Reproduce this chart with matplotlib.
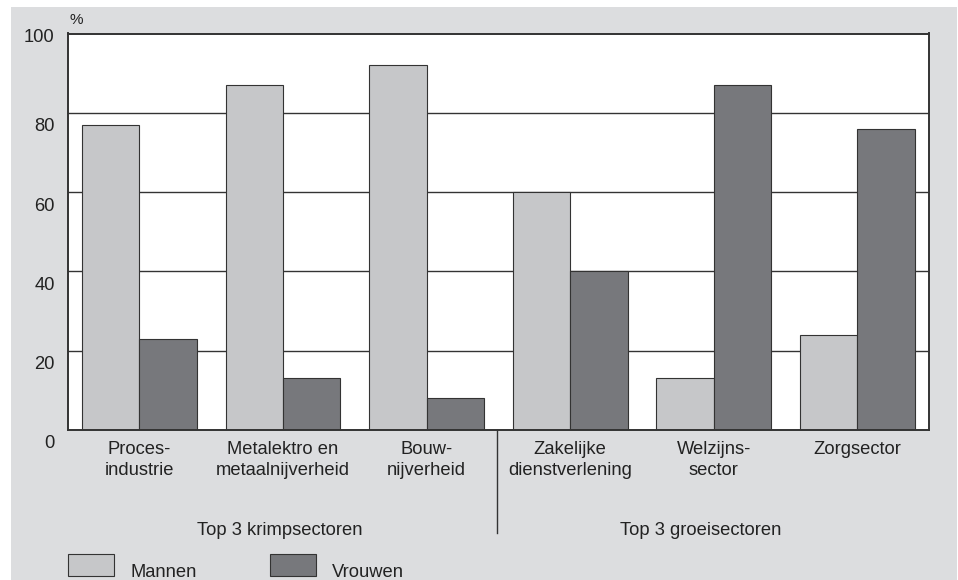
import numpy as np
import matplotlib
matplotlib.use("Agg")
import matplotlib.pyplot as plt
from matplotlib.patches import Rectangle
from matplotlib.transforms import ScaledTranslation

plt.rcParams['font.family'] = ['Liberation Sans', 'DejaVu Sans']

sectoren = ["Proces-\nindustrie", "Metalektro en\nmetaalnijverheid", "Bouw-\nnijverheid",
            "Zakelijke\ndienstverlening", "Welzijns-\nsector", "Zorgsector"]
mannen = [77, 87, 92, 60, 13, 24]
vrouwen = [23, 13, 8, 40, 87, 76]
yticks = [0, 20, 40, 60, 80, 100]
groepen = ["Top 3 krimpsectoren", "Top 3 groeisectoren"]

c_man = "#c6c7c9"
c_vrouw = "#77787c"
bg = "#dcdddf"
ink = "#222222"
fs = 13.2

W, H = 958, 580
fig = plt.figure(figsize=(W / 100, H / 100), dpi=100, facecolor="white")

# grey panel behind everything
fig.patches.append(Rectangle((11 / W, 0), (957 - 11) / W, (H - 7) / H,
                             transform=fig.transFigure, facecolor=bg,
                             edgecolor="none", zorder=-10))

ax = fig.add_axes([67.7 / W, (H - 430) / H, (929 - 67.7) / W, (430 - 33.5) / H])
ax.set_facecolor("white")

x = np.arange(len(sectoren))
w = 0.4
ax.bar(x - w / 2, mannen, w, color=c_man, edgecolor="#333333", linewidth=0.8)
ax.bar(x + w / 2, vrouwen, w, color=c_vrouw, edgecolor="#333333", linewidth=0.8)

ax.set_xlim(-0.5, len(sectoren) - 0.5)
ax.set_ylim(0, 100)
ax.set_axisbelow(True)
ax.yaxis.grid(True, color="#333333", linewidth=1.0)

for s in ax.spines.values():
    s.set_color("#333333")
    s.set_linewidth(1.4)

ax.set_yticks(yticks)
ax.set_yticklabels([str(v) for v in yticks], fontsize=fs, color=ink)
ax.tick_params(axis="y", length=0, pad=9.5)
for lab, v in zip(ax.get_yticklabels(), yticks):
    dy = 1.5 if v == 100 else 8.6
    lab.set_transform(lab.get_transform() + ScaledTranslation(0, -dy / 72, fig.dpi_scale_trans))

ax.set_xticks(x)
ax.set_xticklabels(sectoren, fontsize=fs, color=ink, linespacing=1.32)
ax.tick_params(axis="x", length=0, pad=8)

fig.text(70 / W, (H - 24) / H, "%", fontsize=11, color=ink, ha="left", va="baseline")

# divider between the two groups of sectors
ax.plot([2.49, 2.49], [0, -26], color="#333333", linewidth=1.0, clip_on=False)

fig.text(280 / W, (H - 535) / H, groepen[0], fontsize=fs, color=ink, ha="center", va="baseline")
fig.text(701 / W, (H - 535) / H, groepen[1], fontsize=fs, color=ink, ha="center", va="baseline")

# legend
for x0, col, lab in [(68, c_man, "Mannen"), (270, c_vrouw, "Vrouwen")]:
    fig.patches.append(Rectangle((x0 / W, (H - 576) / H), 46 / W, 22 / H,
                                 transform=fig.transFigure, facecolor=col,
                                 edgecolor="#333333", linewidth=0.8))
    fig.text((x0 + 62) / W, (H - 577) / H, lab, fontsize=fs, color=ink,
             ha="left", va="baseline")

fig.savefig("out.png", dpi=100, facecolor="white")
